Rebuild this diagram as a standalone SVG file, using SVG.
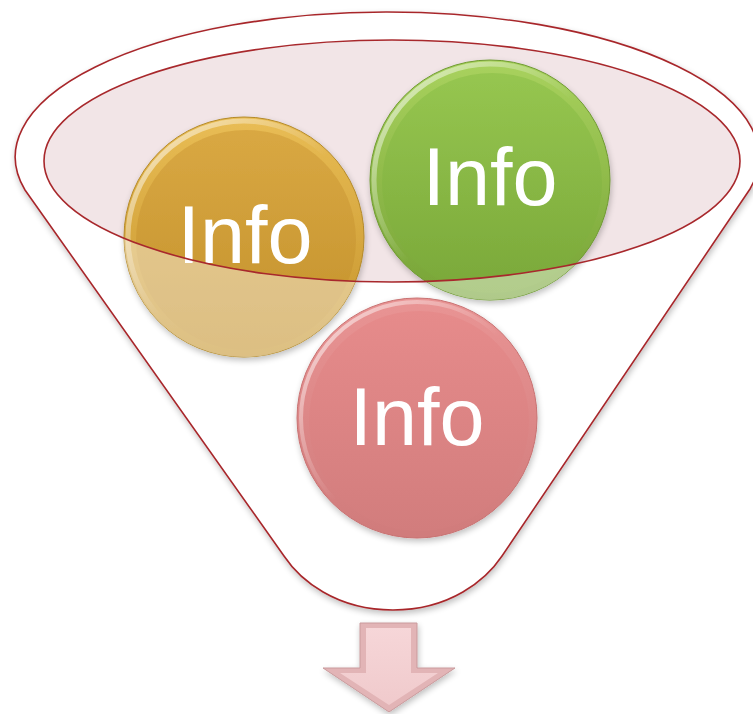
<svg xmlns="http://www.w3.org/2000/svg" width="753" height="714" viewBox="0 0 753 714">
<defs>
<style>
.outline{fill:none;stroke:#a8282c;stroke-width:1.6}
.label{font-family:"Liberation Sans",Arial,sans-serif;font-size:81px;fill:#ffffff;text-anchor:middle}
</style>
<filter id="soft" x="-10%" y="-10%" width="120%" height="120%">
<feGaussianBlur in="SourceAlpha" stdDeviation="3"/>
<feOffset dx="1" dy="3"/>
<feComponentTransfer><feFuncA type="linear" slope="0.25"/></feComponentTransfer>
<feMerge><feMergeNode/><feMergeNode in="SourceGraphic"/></feMerge>
</filter>
<linearGradient id="goldRim" x1="0" y1="0" x2="0" y2="1">
<stop offset="0" stop-color="#e9bd55"/><stop offset="1" stop-color="#c4922a"/>
</linearGradient>
<linearGradient id="goldFace" x1="0" y1="0" x2="0" y2="1">
<stop offset="0" stop-color="#d9a843"/><stop offset="1" stop-color="#c3912b"/>
</linearGradient>
<linearGradient id="greenRim" x1="0" y1="0" x2="0" y2="1">
<stop offset="0" stop-color="#a9d25e"/><stop offset="1" stop-color="#76a336"/>
</linearGradient>
<linearGradient id="greenFace" x1="0" y1="0" x2="0" y2="1">
<stop offset="0" stop-color="#96c650"/><stop offset="1" stop-color="#7aa839"/>
</linearGradient>
<linearGradient id="pinkRim" x1="0" y1="0" x2="0" y2="1">
<stop offset="0" stop-color="#e99494"/><stop offset="1" stop-color="#d07b7b"/>
</linearGradient>
<linearGradient id="pinkFace" x1="0" y1="0" x2="0" y2="1">
<stop offset="0" stop-color="#e68b8b"/><stop offset="1" stop-color="#d27d7d"/>
</linearGradient>
<linearGradient id="hl" x1="0" y1="0" x2="1" y2="1">
<stop offset="0" stop-color="#ffffff" stop-opacity="0.7"/><stop offset="0.5" stop-color="#ffffff" stop-opacity="0"/>
</linearGradient>
<linearGradient id="arrowFill" x1="0" y1="0" x2="0" y2="1">
<stop offset="0" stop-color="#f6d6d8"/><stop offset="1" stop-color="#f0cacc"/>
</linearGradient>
<clipPath id="topCircles">
<circle cx="244" cy="237" r="120"/>
<circle cx="490" cy="180" r="120"/>
</clipPath>
</defs>

<g id="funnel" filter="url(#soft)">
<path d="M 25,190 A 372 145 0 1 1 750,189 L 502,556 C 486,580 450,610 393,610 C 336,610 300,580 284,556 Z" fill="#ffffff" stroke="#a8282c" stroke-width="1.6"/>
</g>

<g id="opening-fill">
<ellipse cx="392" cy="161" rx="348" ry="121" fill="#f2e5e7"/>
</g>

<g id="circle-gold" filter="url(#soft)">
<circle cx="244" cy="237" r="120" fill="url(#goldRim)" stroke="#b48a2a" stroke-width="1"/>
<circle cx="246" cy="240" r="110" fill="url(#goldFace)"/>
<circle cx="244" cy="237" r="116" fill="none" stroke="url(#hl)" stroke-width="5"/>
<text class="label" x="245" y="263">Info</text>
</g>

<g id="circle-green" filter="url(#soft)">
<circle cx="490" cy="180" r="120" fill="url(#greenRim)" stroke="#6f9a32" stroke-width="1"/>
<circle cx="492" cy="183" r="110" fill="url(#greenFace)"/>
<circle cx="490" cy="180" r="116" fill="none" stroke="url(#hl)" stroke-width="5"/>
<text class="label" x="490" y="205">Info</text>
</g>

<g id="circle-pink" filter="url(#soft)">
<circle cx="417" cy="418" r="120" fill="url(#pinkRim)" stroke="#c87272" stroke-width="1"/>
<circle cx="419" cy="421" r="110" fill="url(#pinkFace)"/>
<circle cx="417" cy="418" r="116" fill="none" stroke="url(#hl)" stroke-width="4"/>
<text class="label" x="417" y="445">Info</text>
</g>

<g id="funnel-body-overlay" clip-path="url(#topCircles)">
<path d="M 0,0 H 753 V 714 H 0 Z M 44,161 A 348 121 0 1 0 740,161 A 348 121 0 1 0 44,161 Z" fill="#ffffff" fill-opacity="0.42" fill-rule="evenodd"/>
</g>

<g id="opening-rim">
<ellipse class="outline" cx="392" cy="161" rx="348" ry="121"/>
</g>

<g id="arrow" filter="url(#soft)">
<path d="M 360,623 H 417 V 668 H 455 L 389,712 L 323,668 H 360 Z" fill="#e2b4b6" stroke="#c99a9c" stroke-width="1"/>
<path d="M 366,628 H 411 V 673 H 438 L 389,705 L 340,673 H 366 Z" fill="url(#arrowFill)"/>
</g>
</svg>
